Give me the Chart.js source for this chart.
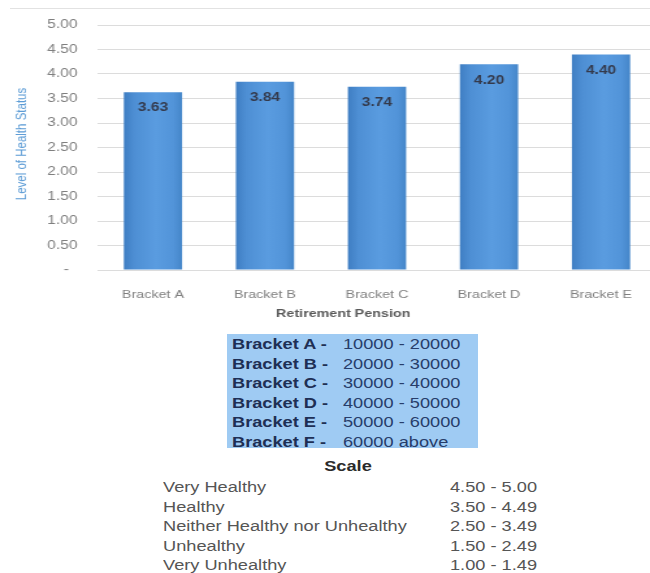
<!DOCTYPE html>
<html>
<head>
<meta charset="utf-8">
<script src="https://cdn.jsdelivr.net/npm/chart.js@4/dist/chart.umd.min.js"></script>
<style>
  html, body { margin: 0; padding: 0; background: #fff; width: 650px; height: 573px; overflow: hidden; }
  #frame { position: absolute; left: 10px; top: 8px; width: 640px; height: 1px; background: #e2e2e2; }
  #wrap { position: absolute; left: 0; top: 0; width: 510px; height: 330px; transform: scaleX(1.3); transform-origin: 0 0; }
  .t { position: absolute; font-family: 'Liberation Sans', Arial, sans-serif; font-size: 14px; line-height: 16px;
       white-space: pre; transform: scaleX(1.3); transform-origin: left center; }
  #legendBox { position: absolute; left: 227px; top: 334px; width: 251px; height: 114px; background: #9fcbf3; }
  .bk { font-weight: bold; color: #1e2f55; }
  .rg { color: #273d6a; }
  .sc { color: #555; }
  .sr { color: #555; text-align: right; width: 100px; transform-origin: right center; }
  #scaleTitle { font-weight: bold; color: #2a2a2a; width: 100px; text-align: center; transform-origin: center center; }
</style>
</head>
<body>
<div id="frame"></div>
<div id="wrap"><canvas id="chart" width="510" height="330"></canvas></div>
<div id="legendBox"></div>
<div id="notes"></div>
<script>
// Average level of health status by retirement pension bracket
const categories = ['Bracket A', 'Bracket B', 'Bracket C', 'Bracket D', 'Bracket E'];
const healthStatus = [3.63, 3.84, 3.74, 4.20, 4.40];

// Pension bracket ranges
const bracketNames = ['Bracket A', 'Bracket B', 'Bracket C', 'Bracket D', 'Bracket E', 'Bracket F'];
const bracketRanges = ['10000 - 20000', '20000 - 30000', '30000 - 40000', '40000 - 50000', '50000 - 60000', '60000 above'];

// Interpretation scale
const scaleLabels = ['Very Healthy', 'Healthy', 'Neither Healthy nor Unhealthy', 'Unhealthy', 'Very Unhealthy'];
const scaleRanges = ['4.50 - 5.00', '3.50 - 4.49', '2.50 - 3.49', '1.50 - 2.49', '1.00 - 1.49'];

const FONT = "'Liberation Sans', Arial, sans-serif";

// Shade each bar with its own horizontal gradient
const barShading = {
  id: 'barShading',
  beforeDatasetsDraw(chart) {
    const ctx = chart.ctx;
    chart.getDatasetMeta(0).data.forEach(bar => {
      const l = bar.x - bar.width / 2, r = bar.x + bar.width / 2;
      const g = ctx.createLinearGradient(l, 0, r, 0);
      g.addColorStop(0, '#3f7ec3');
      g.addColorStop(0.18, '#4e8fd4');
      g.addColorStop(0.55, '#5a9ce0');
      g.addColorStop(0.85, '#5294d9');
      g.addColorStop(1, '#4586c9');
      bar.options = Object.assign({}, bar.options, { backgroundColor: g });
    });
  }
};

// Value labels inside the top of each bar, plus axis titles
const annotations = {
  id: 'annotations',
  afterDatasetsDraw(chart) {
    const ctx = chart.ctx;
    const ds = chart.data.datasets[0];
    ctx.save();
    ctx.font = 'bold 12px ' + FONT;
    ctx.fillStyle = '#343a4c';
    ctx.textAlign = 'center';
    ctx.textBaseline = 'middle';
    chart.getDatasetMeta(0).data.forEach((bar, i) => {
      ctx.fillText(ds.data[i].toFixed(2), bar.x, bar.y + 16);
    });
    ctx.restore();
  },
  afterDraw(chart) {
    const ctx = chart.ctx;
    ctx.save();
    ctx.font = 'bold 11px ' + FONT;
    ctx.fillStyle = '#595959';
    ctx.textAlign = 'center';
    ctx.textBaseline = 'middle';
    ctx.fillText('Retirement Pension', 264, 314);
    ctx.translate(17, 144);
    ctx.rotate(-Math.PI / 2);
    ctx.font = '11.5px ' + FONT;
    ctx.fillStyle = '#5b9bd5';
    ctx.fillText('Level of Health Status', 0, 0);
    ctx.restore();
  }
};

new Chart(document.getElementById('chart'), {
  type: 'bar',
  data: {
    labels: categories,
    datasets: [{
      data: healthStatus,
      backgroundColor: '#5b9bd5',
      borderWidth: 0,
      categoryPercentage: 1,
      barPercentage: 0.52
    }]
  },
  options: {
    responsive: false,
    animation: false,
    devicePixelRatio: 1,
    layout: { padding: { top: 25, right: 4.6, bottom: 0, left: 0 } },
    plugins: { legend: { display: false }, tooltip: { enabled: false } },
    scales: {
      x: {
        grid: { display: false },
        border: { display: false },
        ticks: { color: '#7f7f7f', font: { family: FONT, size: 11 }, padding: 10, maxRotation: 0 },
        afterFit(scale) { scale.height = 60; }
      },
      y: {
        min: 0,
        max: 5,
        grid: { color: '#dcdcdc', drawTicks: false },
        border: { display: false },
        ticks: {
          stepSize: 0.5,
          padding: 15,
          color: '#7f7f7f',
          font: { family: FONT, size: 12 },
          callback: v => v === 0 ? '-  ' : v.toFixed(2)
        },
        afterFit(scale) { scale.width = 74.6; }
      }
    }
  },
  plugins: [barShading, annotations]
});

// Bracket key and scale table
const notes = document.getElementById('notes');
function addText(cls, text, left, top) {
  const d = document.createElement('div');
  d.className = 't ' + cls;
  d.textContent = text;
  d.style.left = left + 'px';
  d.style.top = top + 'px';
  notes.appendChild(d);
  return d;
}
bracketNames.forEach((name, i) => {
  const top = 336 + i * 19.6;
  addText('bk', name + ' - ', 232, top);
  addText('rg', bracketRanges[i], 343, top);
});
const st = addText('', 'Scale', 297.5, 458);
st.id = 'scaleTitle';
scaleLabels.forEach((lab, i) => {
  const top = 479 + i * 19.6;
  addText('sc', lab, 163, top);
  addText('sr', scaleRanges[i], 437, top);
});
</script>
</body>
</html>
